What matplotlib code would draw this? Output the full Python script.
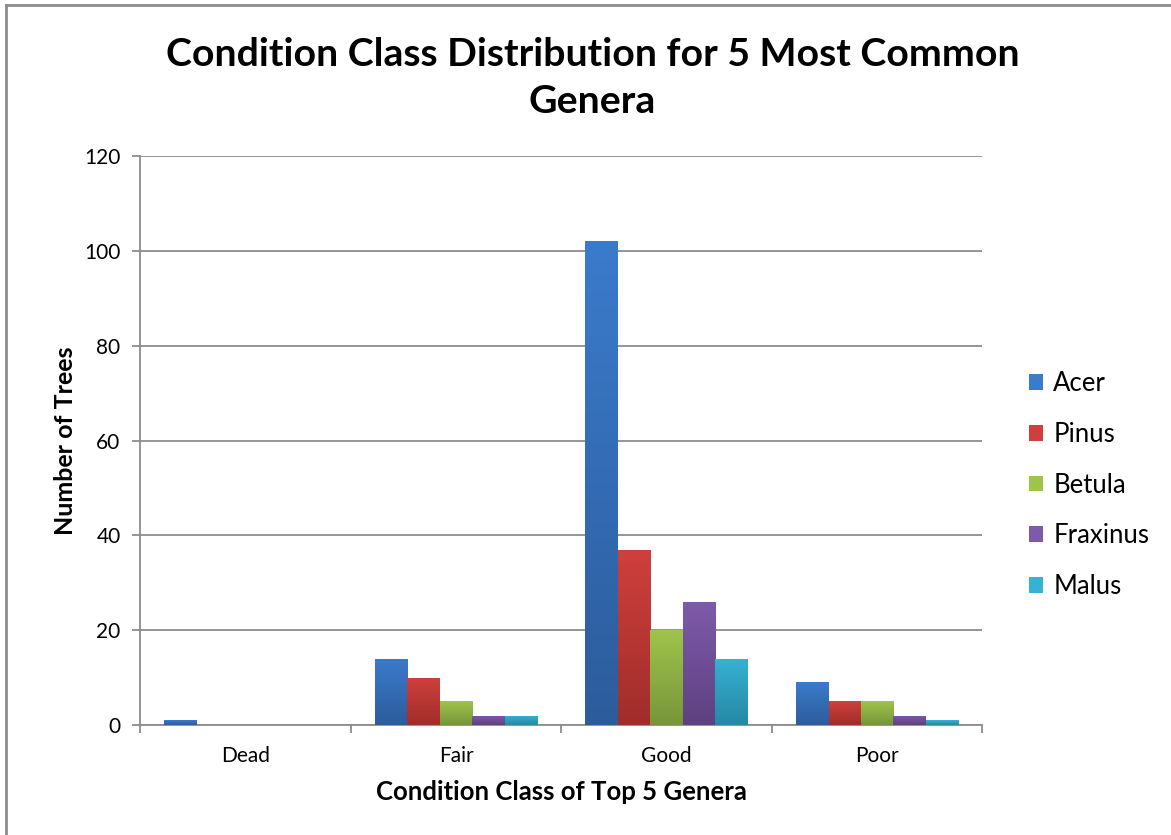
import matplotlib
matplotlib.use("Agg")
import matplotlib.pyplot as plt
import numpy as np
from matplotlib.colors import LinearSegmentedColormap, to_rgb
from matplotlib.patches import Patch
from matplotlib.lines import Line2D

categories = ["Dead", "Fair", "Good", "Poor"]
genera = ["Acer", "Pinus", "Betula", "Fraxinus", "Malus"]
acer = [1, 14, 102, 9]
pinus = [0, 10, 37, 5]
betula = [0, 5, 20, 5]
fraxinus = [0, 2, 26, 2]
malus = [0, 2, 14, 1]
series = [acer, pinus, betula, fraxinus, malus]
yticks = [0, 20, 40, 60, 80, 100, 120]

top_colors = ["#3b7bcc", "#cf403c", "#9fc44a", "#7f5aab", "#36b2d4"]
bot_colors = ["#2c5c9c", "#a02d2a", "#77953a", "#5e4180", "#2688a4"]

plt.rcParams['font.family'] = ['Lato', 'DejaVu Sans']
fig = plt.figure(figsize=(11.71, 8.35), dpi=100)
ax = fig.add_axes([0.1196, 0.1317, 0.8390 - 0.1196, 0.8132 - 0.1317])

n = len(genera)
x = np.arange(len(categories))
group_w = 0.77
bw = group_w / n
ax.set_xlim(-0.5, len(categories) - 0.5)
ax.set_ylim(0, 120)

for i, (vals, tc, bc) in enumerate(zip(series, top_colors, bot_colors)):
    pos = x - group_w / 2 + bw * (i + 0.5)
    bars = ax.bar(pos, vals, width=bw, color=tc, zorder=3, linewidth=0)
    cmap = LinearSegmentedColormap.from_list("g%d" % i, [to_rgb(bc), to_rgb(tc)])
    grad = np.linspace(0, 1, 256).reshape(-1, 1)
    for b in bars:
        h = b.get_height()
        if h <= 0:
            continue
        x0 = b.get_x()
        im = ax.imshow(grad, extent=(x0, x0 + b.get_width(), 0, h), origin="lower",
                       cmap=cmap, aspect="auto", zorder=3.5)
        im.set_clip_path(b)

ax.set_yticks(yticks)
ax.yaxis.grid(True, color="#8c8c8c", linewidth=1.3, zorder=0)
ax.set_axisbelow(True)
ax.set_xticks(x)
ax.set_xticklabels(categories, fontsize=15)
ax.tick_params(axis="x", length=0, pad=15)
ax.tick_params(axis="y", length=6, width=1.3, color="#8c8c8c", labelsize=15, pad=8)
# category boundary ticks
ax.set_xticks(np.arange(-0.5, len(categories), 1.0), minor=True)
ax.tick_params(axis="x", which="minor", length=6, width=1.3, color="#8c8c8c", direction="out")

for s in ["top", "right"]:
    ax.spines[s].set_visible(False)
for s in ["left", "bottom"]:
    ax.spines[s].set_color("#8c8c8c")
    ax.spines[s].set_linewidth(1.3)

ax.set_xlabel("Condition Class of Top 5 Genera", fontsize=18.5, fontweight="bold", labelpad=10)
ax.set_ylabel("Number of Trees", fontsize=18, fontweight="bold", labelpad=5)
fig.text(0.506, 0.956, "Condition Class Distribution for 5 Most Common\nGenera",
         ha="center", va="top", fontsize=28.3, fontweight="bold", linespacing=1.42)

handles = [Patch(facecolor=tc, edgecolor="none") for tc in top_colors]
leg = fig.legend(handles, genera, loc="center left", bbox_to_anchor=(0.879, 0.419),
                 frameon=False, fontsize=18.5, handlelength=0.55, handleheight=0.55,
                 labelspacing=1.0, handletextpad=0.38, borderaxespad=0, borderpad=0)

# outer frame
fig.add_artist(Line2D([0.0047, 0.0047], [0, 0.994], transform=fig.transFigure, color="#8c8c8c", linewidth=2))
fig.add_artist(Line2D([0.0047, 1.0], [0.994, 0.994], transform=fig.transFigure, color="#8c8c8c", linewidth=2))

fig.savefig("out.png", dpi=100)
